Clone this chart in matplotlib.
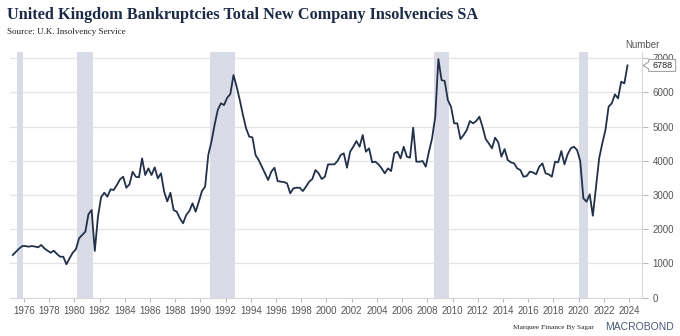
import numpy as np
import matplotlib
matplotlib.use("Agg")
import matplotlib.pyplot as plt
from matplotlib.patches import Polygon

# ---------------- data (quarterly, 1975Q1 .. 2023Q4) ----------------
start_year = 1975
insolvencies = [
    1243, 1340, 1430, 1505,   # 1975
    1505, 1486, 1505, 1490,   # 1976
    1467, 1535, 1437, 1370,   # 1977
    1310, 1368, 1272, 1193,   # 1978
    1193, 971, 1146, 1310,    # 1979
    1409, 1731, 1830, 1924,   # 1980
    2441, 2558, 1360, 2363,   # 1981
    2930, 3065, 2948, 3163,   # 1982
    3145, 3289, 3455, 3533,   # 1983
    3211, 3309, 3678, 3533,   # 1984
    3513, 4069, 3582, 3777,   # 1985
    3582, 3806, 3485, 3631,   # 1986
    3094, 2810, 3065, 2558,   # 1987
    2510, 2315, 2170, 2412,   # 1988
    2529, 2754, 2510, 2802,   # 1989
    3114, 3240, 4167, 4556,   # 1990
    5044, 5482, 5678, 5629,   # 1991
    5843, 5950, 6506, 6165,   # 1992
    5775, 5336, 4947, 4702,   # 1993
    4684, 4167, 4020, 3826,   # 1994
    3631, 3436, 3680, 3796,   # 1995
    3406, 3387, 3377, 3339,   # 1996
    3047, 3192, 3211, 3211,   # 1997
    3114, 3240, 3387, 3465,   # 1998
    3728, 3631, 3465, 3533,   # 1999
    3894, 3894, 3894, 3991,   # 2000
    4167, 4216, 3796, 4264,   # 2001
    4410, 4576, 4410, 4751,   # 2002
    4264, 4362, 3953, 3972,   # 2003
    3894, 3777, 3631, 3777,   # 2004
    3699, 4216, 4264, 4069,   # 2005
    4410, 4118, 4089, 4966,   # 2006
    3972, 3972, 3991, 3826,   # 2007
    4264, 4654, 5287, 6974,   # 2008
    6360, 6330, 5775, 5580,   # 2009
    5093, 5093, 4635, 4751,   # 2010
    4898, 5161, 5093, 5161,   # 2011
    5287, 4994, 4635, 4508,   # 2012
    4362, 4674, 4538, 4118,   # 2013
    4342, 4020, 3953, 3924,   # 2014
    3777, 3728, 3533, 3553,   # 2015
    3680, 3660, 3602, 3826,   # 2016
    3923, 3631, 3602, 3533,   # 2017
    3972, 3953, 4284, 3894,   # 2018
    4187, 4362, 4410, 4313,   # 2019
    3991, 2900, 2802, 3017,   # 2020
    2392, 3240, 4069, 4508,   # 2021
    4898, 5580, 5678, 5941,   # 2022
    5824, 6311, 6262, 6788,   # 2023
]
recession_start = [1975.47, 1980.23, 1990.75, 2008.54, 2020.04]
recession_end = [1975.97, 1981.46, 1992.73, 2009.73, 2020.75]
x_ticks = list(range(1976, 2025, 2))
y_ticks = [0, 1000, 2000, 3000, 4000, 5000, 6000, 7000]
last_label = "6788"

title = "United Kingdom Bankruptcies Total New Company Insolvencies SA"
subtitle = "Source: U.K. Insolvency Service"

# ---------------- figure ----------------
W, H = 680, 336
fig = plt.figure(figsize=(W / 100, H / 100), dpi=100)
fig.patch.set_facecolor("white")

ax = fig.add_axes([10 / W, 1 - 297.5 / H, (641.7 - 10) / W, (297.5 - 52) / H])

n = len(insolvencies)
qidx = np.arange(n)
xdates = start_year + qidx // 4 + ((qidx % 4) + 0.5) / 4.0

line_col = "#22304a"
band_col = "#d9dce6"
grid_col = "#e4e4e4"
tick_col = "#555555"

for s, e in zip(recession_start, recession_end):
    ax.axvspan(s, e, color=band_col, lw=0, zorder=1)

ax.plot(xdates, insolvencies, color=line_col, lw=1.3, zorder=3,
        solid_joinstyle="round")

ax.set_xlim(1974.9, 2025.0)
ax.set_ylim(0, 7180)

ax.set_yticks(y_ticks)
ax.yaxis.tick_right()
ax.yaxis.grid(True, color=grid_col, lw=0.9, zorder=0)
ax.set_axisbelow(True)

ax.set_xticks(x_ticks)
ax.set_xticklabels([str(t) for t in x_ticks])

for side in ["top", "left"]:
    ax.spines[side].set_visible(False)
ax.spines["right"].set_color("#d8d8d8")
ax.spines["bottom"].set_color("#d8d8d8")
ax.spines["right"].set_linewidth(0.8)
ax.spines["bottom"].set_linewidth(0.8)

ax.tick_params(axis="x", direction="out", length=3, width=0.8, color="#bbbbbb",
               labelsize=7, labelcolor=tick_col, pad=3)
ax.tick_params(axis="y", direction="out", length=4, width=0.8, color="#bbbbbb",
               labelsize=7, labelcolor=tick_col, pad=4)
for lab in ax.get_xticklabels() + ax.get_yticklabels():
    lab.set_fontfamily("Liberation Sans")

# "Number" unit label
fig.text(642 / W, 1 - 45.5 / H, "Number", ha="center", va="center",
         fontsize=7, color=tick_col, family="Liberation Sans")

# Last-value callout (tag with pointer to the right axis)
px, py = ax.transData.transform((2025.0, insolvencies[-1]))
py = H - py  # pixel from top
x_tip = px + 1.5
x_body = x_tip + 5.5
x_right = x_body + 27
half = 6.0
pts_top = [(x_tip, py), (x_body, py - 3.5), (x_body, py - half), (x_right, py - half),
           (x_right, py + half), (x_body, py + half), (x_body, py + 3.5)]
poly = Polygon([(x / W, 1 - y / H) for x, y in pts_top], closed=True,
               transform=fig.transFigure, fc="white", ec="#9a9a9a", lw=0.7,
               zorder=10)
fig.patches.append(poly)
fig.text((x_body + x_right) / 2 / W, 1 - py / H, last_label, ha="center",
         va="center", fontsize=6.5, color="#222222", family="Liberation Sans",
         zorder=11)

# Titles
fig.text(7 / W, 1 - 15 / H, title, ha="left", va="center", fontsize=11.7,
         fontweight="bold", color="#1c2a48", family="Liberation Serif")
fig.text(7 / W, 1 - 32 / H, subtitle, ha="left", va="center", fontsize=6.5,
         color="#222222", family="Liberation Serif")

# Footer
fig.text(553 / W, 1 - 327 / H, "Marquee Finance By Sagar", ha="center", va="center",
         fontsize=5.3, color="#222222", family="Liberation Serif")
fig.text(640 / W, 1 - 327 / H, "MACROBOND", ha="center", va="center",
         fontsize=7.5, color="#4b5a78", family="Liberation Sans")

fig.savefig("out.png", dpi=100, facecolor="white")
